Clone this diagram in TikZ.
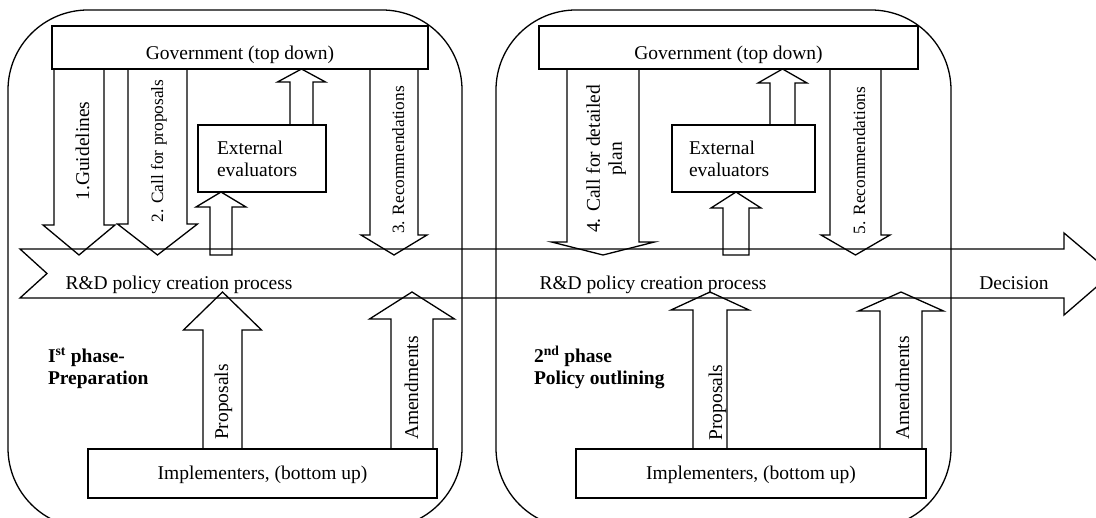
\documentclass[tikz,border=0pt]{standalone}
\usepackage{fontspec}
\setmainfont{Liberation Serif}
\usetikzlibrary{calc,positioning}

\tikzset{
  fat/.style args={#1/#2/#3}{to path={
    let \p1=(\tikztostart), \p2=(\tikztotarget), \n1={(\y2-\y1)/abs(\y2-\y1)} in
    ({\x1-#1*1pt},\y1) -- ({\x1-#1*1pt},{\y2-(\n1)*#3*1pt}) -- ({\x1-#2*1pt},{\y2-(\n1)*#3*1pt})
    -- (\x1,\y2) -- ({\x1+#2*1pt},{\y2-(\n1)*#3*1pt}) -- ({\x1+#1*1pt},{\y2-(\n1)*#3*1pt})
    -- ({\x1+#1*1pt},\y1)}},
  phase/.style={draw,rounded corners=80pt,minimum width=#1,minimum height=518pt},
  govbox/.style={draw,minimum width=#1,minimum height=43pt,text height=25pt,text depth=0pt},
  impbox/.style={draw,minimum width=#1,minimum height=49pt,text height=13pt,text depth=0pt},
  evalbox/.style={draw,minimum width=#1,minimum height=67pt,align=left},
  ttl/.style={anchor=base west,font=\fontsize{19.5}{22}\selectfont\bfseries},
  up/.style={rotate=90,anchor=base},
  smaller/.style={font=\fontsize{17.3}{20}\selectfont}
}

\begin{document}
\begin{tikzpicture}[x=1pt,y=-1pt,line width=1.3pt,
  every node/.style={font=\fontsize{19.5}{22}\selectfont,inner sep=0pt,outer sep=0pt}]
  \useasboundingbox (0,0) rectangle (1096,518);

  % the two phases
  \node[phase=454pt] (ph1) at (235,269) {};
  \node[phase=455pt] (ph2) at (723.5,269) {};

  \node[govbox=376pt] (gov1) at (240,47.5) {Government (top down)};
  \node[govbox=379pt] (gov2) at (728.5,47.5) {Government (top down)};
  \node[impbox=349pt] (imp1) at (262.5,473.5) {Implementers, (bottom up)};
  \node[impbox=350pt] (imp2) at (751,473.5) {Implementers, (bottom up)};
  \node[evalbox=128pt,text width=90pt] (ext1) at (262,158.5) {External\\evaluators};
  \node[evalbox=143pt,text width=109pt] (ext2) at (743.5,158.5) {External\\evaluators};

  % process arrow
  \node[minimum width=1044pt,minimum height=49pt] (proc) at (542,273.5) {};
  \draw (proc.north west) -- (proc.north east) -- ++(0,-16) -- ($(proc.east)+(48,0)$)
    -- ($(proc.south east)+(0,17)$) -- (proc.south east) -- (proc.south west)
    -- ($(proc.west)+(27,0)$) -- cycle;
  \node[anchor=base] (proc1) at (179,290) {R\&D policy creation process};
  \node[anchor=base] (proc2) at (653,290) {R\&D policy creation process};
  \node[anchor=base] (dec) at (1014,290) {Decision};

  \node[ttl] (ph1a) at (48,363) {I\textsuperscript{st} phase-};
  \node[ttl] (ph1b) at (48,385) {Preparation};
  \node[ttl] (ph2a) at (534,363) {2\textsuperscript{nd} phase};
  \node[ttl] (ph2b) at (534,385) {Policy outlining};

  % top down
  \foreach \cx/\sw/\hw/\hl/\src in {79/25/36/30/gov1,157.5/29.5/40/31/gov1,394/24/33/20/gov1,
      603/36/51.5/13/gov2,855.5/25.5/34.5/20/gov2}
  \draw[fat=\sw/\hw/\hl] (\cx,0 |- \src.south) to ($(\cx,0 |- proc.north)+(0,6)$)
  ;

  % bottom up
  \foreach \cx/\sw/\hw/\hl/\src in {222.5/19.5/39/38/imp1,412/21/42.5/27/imp1,
      710/17/39/18/imp2,901/21/42.5/19/imp2}
  \draw[fat=\sw/\hw/\hl] (\cx,0 |- \src.north) to ($(\cx,0 |- proc.south)+(0,-6)$)
  ;

  % evaluators
  \draw[fat=11/25/15] ($(221,0 |- proc.north)+(0,6)$) to (221,0 |- ext1.south) -- cycle;
  \draw[fat=13/25/16] ($(736,0 |- proc.north)+(0,6)$) to (736,0 |- ext2.south) -- cycle;
  \draw[fat=11.5/24/13] (301.5,0 |- ext1.north) to (301.5,0 |- gov1.south);
  \draw[fat=12.5/24.5/14] (782.5,0 |- ext2.north) to (782.5,0 |- gov2.south);

  \node[up] (lab1) at (89,151) {1.Guidelines};
  \node[up,smaller] (lab2) at (163,151) {2. Call for proposals};
  \node[up,smaller] (lab3) at (404,160) {3. Recommendations};
  \node[rotate=90,align=center] (lab4) at (606,159) {4. Call for detailed\\plan};
  \node[up,smaller] (lab5) at (865,160.5) {5. Recommendations};
  \node[up] (prop1) at (228,402) {Proposals};
  \node[up] (amd1) at (418,388) {Amendments};
  \node[up] (prop2) at (722,402.5) {Proposals};
  \node[up] (amd2) at (909,388) {Amendments};
\end{tikzpicture}
\end{document}
